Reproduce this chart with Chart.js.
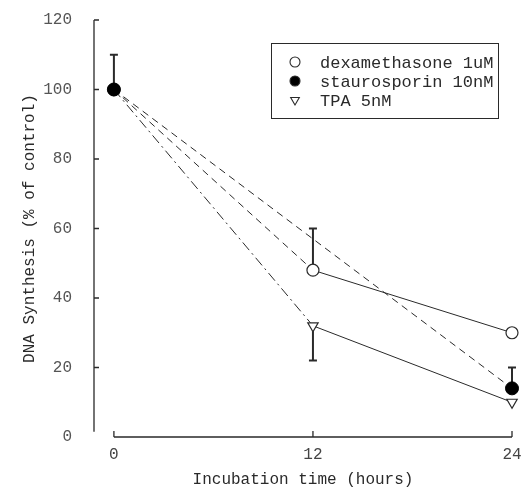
<!DOCTYPE html>
<html>
<head>
<meta charset="utf-8">
<script src="https://cdn.jsdelivr.net/npm/chart.js@4.4.0/dist/chart.umd.min.js"></script>
<style>
  html, body { margin: 0; padding: 0; background: #fff; }
</style>
</head>
<body>
<canvas id="myChart" width="521" height="493"></canvas>
<script>
// data
var hours = [0, 12, 24];
var xTicks = [0, 12, 24];
var yTicks = [0, 20, 40, 60, 80, 100, 120];
var seriesNames = ['dexamethasone 1uM', 'staurosporin 10nM', 'TPA 5nM'];
var dexa = [100, 48, 30];
var stauro = [100, null, 14];
var tpa = [100, 32, 10];
// error bars: positive = drawn up, negative = drawn down
var dexaErr = [0, 12, 0];
var stauroErr = [10, 0, 6];
var tpaErr = [0, -10, 0];

var ink = '#2a2a2a';
var fontFam = '"Liberation Mono", "DejaVu Sans Mono", monospace';

function pts(vals) {
  var out = [];
  hours.forEach(function (h, i) {
    if (vals[i] !== null) out.push({ x: h, y: vals[i] });
  });
  return out;
}

var dashFirst = function (ctx) {
  return ctx.p0.parsed.x === 0 ? [7, 5] : undefined;
};

var allVals = [dexa, stauro, tpa];
var errs = [dexaErr, stauroErr, tpaErr];

var extras = {
  id: 'extras',
  beforeDatasetsDraw: function (chart) {
    var c = chart.ctx, xs = chart.scales.x, ys = chart.scales.y, a = chart.chartArea;
    c.save();
    c.strokeStyle = ink;
    c.lineWidth = 1.3;
    // y axis + inward ticks
    c.beginPath();
    c.moveTo(a.left, ys.getPixelForValue(120));
    c.lineTo(a.left, ys.getPixelForValue(1.5));
    yTicks.forEach(function (v) {
      if (v === 0) return;
      var py = ys.getPixelForValue(v);
      c.moveTo(a.left, py);
      c.lineTo(a.left + 5, py);
    });
    // x axis from 0 to 24 + inward ticks
    var yb = ys.getPixelForValue(0);
    c.moveTo(xs.getPixelForValue(0), yb);
    c.lineTo(xs.getPixelForValue(24), yb);
    xTicks.forEach(function (v) {
      var px = xs.getPixelForValue(v);
      c.moveTo(px, yb);
      c.lineTo(px, yb - 6);
    });
    c.stroke();

    // error bars
    c.lineWidth = 2;
    allVals.forEach(function (vals, di) {
      var e = errs[di];
      hours.forEach(function (h, i) {
        if (!e[i] || vals[i] === null) return;
        var px = xs.getPixelForValue(h);
        var p0 = ys.getPixelForValue(vals[i]);
        var p1 = ys.getPixelForValue(vals[i] + e[i]);
        c.beginPath();
        c.moveTo(px, p0);
        c.lineTo(px, p1);
        c.moveTo(px - 4, p1);
        c.lineTo(px + 4, p1);
        c.stroke();
      });
    });
    c.restore();
  },
  afterDraw: function (chart) {
    // legend box
    var c = chart.ctx;
    c.save();
    c.strokeStyle = ink;
    c.lineWidth = 1;
    c.strokeRect(271.5, 43.5, 227, 75);
    c.font = '17px ' + fontFam;
    c.textBaseline = 'middle';
    chart.data.datasets.forEach(function (ds, i) {
      var cy = 62 + i * 19;
      c.save();
      c.fillStyle = ds.pointBackgroundColor;
      c.strokeStyle = ink;
      c.lineWidth = 1.1;
      Chart.helpers.drawPoint(c, { pointStyle: ds.pointStyle, radius: 5, rotation: ds.pointRotation || 0, borderWidth: 1.1 }, 295, cy);
      c.restore();
      c.fillStyle = ink;
      c.fillText(ds.label, 320, cy + 1);
    });
    c.restore();
  }
};

var chart = new Chart(document.getElementById('myChart').getContext('2d'), {
  type: 'line',
  data: {
    datasets: [
      {
        label: seriesNames[0],
        data: pts(dexa),
        order: 2,
        borderColor: ink,
        borderWidth: 1,
        pointStyle: 'circle',
        pointRadius: 6,
        pointBackgroundColor: '#fff',
        pointBorderColor: ink,
        pointBorderWidth: 1.2,
        segment: { borderDash: dashFirst }
      },
      {
        label: seriesNames[1],
        data: pts(stauro),
        order: 0,
        borderColor: ink,
        borderWidth: 1,
        pointStyle: 'circle',
        pointRadius: 6.5,
        pointBackgroundColor: '#000',
        pointBorderColor: '#000',
        pointBorderWidth: 1,
        borderDash: [7, 5]
      },
      {
        label: seriesNames[2],
        data: pts(tpa),
        order: 1,
        borderColor: ink,
        borderWidth: 1,
        pointStyle: 'triangle',
        pointRotation: 180,
        pointRadius: 6,
        pointBackgroundColor: '#fff',
        pointBorderColor: ink,
        pointBorderWidth: 1.2,
        segment: { borderDash: function (ctx) { return ctx.p0.parsed.x === 0 ? [10, 4, 2, 4] : undefined; } }
      }
    ]
  },
  options: {
    responsive: false,
    animation: false,
    clip: false,
    layout: { padding: { top: 20, right: 9, left: 0, bottom: 0 } },
    plugins: { legend: { display: false }, tooltip: { enabled: false } },
    scales: {
      x: {
        type: 'linear',
        min: -1.2,
        max: 24,
        afterBuildTicks: function (s) { s.ticks = xTicks.map(function (v) { return { value: v }; }); },
        afterFit: function (s) { s.height = 56; s.paddingLeft = 0; s.paddingRight = 0; },
        grid: { display: false, drawTicks: false },
        border: { display: false },
        ticks: { color: '#444', padding: 8, font: { family: fontFam, size: 16 } },
        title: {
          display: true,
          text: 'Incubation time (hours)',
          color: ink,
          padding: { top: 4, bottom: 4 },
          font: { family: fontFam, size: 16 }
        }
      },
      y: {
        min: 0,
        max: 120,
        afterBuildTicks: function (s) { s.ticks = yTicks.map(function (v) { return { value: v }; }); },
        afterFit: function (s) { s.width = 94; s.paddingTop = 0; s.paddingBottom = 0; },
        grid: { display: false, drawTicks: false },
        border: { display: false },
        ticks: { color: '#555', padding: 22, font: { family: fontFam, size: 16 } },
        title: {
          display: true,
          text: 'DNA Synthesis (% of control)',
          color: ink,
          padding: { top: 20, bottom: 0 },
          font: { family: fontFam, size: 16 }
        }
      }
    }
  },
  plugins: [extras]
});
</script>
</body>
</html>
